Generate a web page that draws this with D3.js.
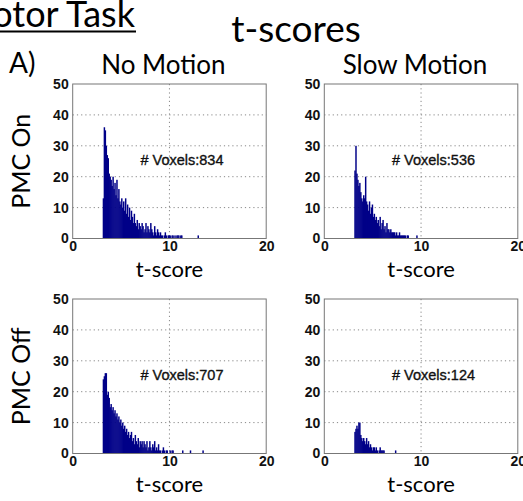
<!DOCTYPE html>
<html>
<head>
<meta charset="utf-8">
<script src="https://cdn.jsdelivr.net/npm/d3@7"></script>
<style>
  body { margin: 0; background: #fff; }
</style>
</head>
<body>
<div class="container"></div>
<script>
// histograms of t-scores, bins of 0.1 starting at t = 3.1

var binStart = 3.1
var binWidth = 0.1

var countsNoMotionOn = [
  13,36,35,30,27,26,21,20,19,17,
  20,16,18,14,19,13,16,12,11,13,
  10,12,9,13,8,11,7,10,6,9,
  7,5,8,5,4,6,3,5,4,3,
  5,4,2,3,5,2,4,3,2,5,
  3,2,1,4,2,1,3,2,1,2,
  1,1,0,1,2,1,0,1,1,1,
  0,1,1,0,1,0,1,1,1,0,
  1,1,0,0,0,0,0,0,0,0,
  0,0,0,0,0,0,0,0,1]

var countsSlowMotionOn = [
  22,30,21,19,17,18,15,13,12,14,
  13,20,12,11,9,12,8,10,11,7,
  8,6,7,5,6,4,7,3,5,6,
  3,4,2,5,3,3,2,3,2,2,
  2,2,1,2,1,1,2,1,1,1,
  1,1,1,0,1,1,0,0,0,0,
  0,0,0,0,1]

var countsNoMotionOff = [
  24,25,26,26,19,20,18,15,16,14,
  15,13,14,12,13,11,12,10,11,9,
  10,8,9,7,8,6,7,5,6,7,
  4,5,3,6,4,3,5,2,4,3,
  4,2,4,3,2,4,1,2,4,2,
  1,3,2,4,1,2,1,3,1,1,
  0,1,2,1,0,1,1,0,0,1,
  0,1,1,0,0,0,0,0,0,0,
  0,0,1,0,0,0,0,0,0,0,
  1,0,0,0,0,0,0,0,0,0,
  0,0,0,1]

var countsSlowMotionOff = [
  7,8,9,8,10,10,6,5,4,5,
  4,3,5,3,4,2,3,2,1,2,
  2,1,2,1,0,1,2,1,1,1,
  1,0,0,0,0,0,0,0,0,0,
  0,0,1]

var voxelTotals = [834, 536, 707, 124]
var xTicks = [0, 10, 20]
var yTicks = [0, 10, 20, 30, 40, 50]
var colTitles = ['No Motion', 'Slow Motion']
var rowTitles = ['PMC On', 'PMC Off']

var panels = [
  {row: 0, col: 0, counts: countsNoMotionOn, total: voxelTotals[0]},
  {row: 0, col: 1, counts: countsSlowMotionOn, total: voxelTotals[1]},
  {row: 1, col: 0, counts: countsNoMotionOff, total: voxelTotals[2]},
  {row: 1, col: 1, counts: countsSlowMotionOff, total: voxelTotals[3]}
]

var layout = {
  width: 523,
  height: 501,
  colLeft: [72.7, 324.3],
  rowTop: [84, 299],
  plotW: 193.5,
  plotH: 154.5
}

var titleFont = 'Lato, "Open Sans", sans-serif'
var tickFont = '"Liberation Sans", Arial, sans-serif'
var barColor = '#000088'

var svg = d3.select('.container').append('svg')
  .attr('width', layout.width)
  .attr('height', layout.height)

// header texts
svg.append('text')
  .attr('x', 135).attr('y', 27)
  .attr('text-anchor', 'end')
  .style('font-family', titleFont).style('font-size', '36px')
  .text('Motor Task')
svg.append('line')
  .attr('x1', 0).attr('x2', 136).attr('y1', 31.5).attr('y2', 31.5)
  .style('stroke', '#000').style('stroke-width', 2)

svg.append('text')
  .attr('x', 296).attr('y', 42)
  .attr('text-anchor', 'middle')
  .style('font-family', titleFont).style('font-size', '37px')
  .text('t-scores')

svg.append('text')
  .attr('x', 9).attr('y', 73)
  .style('font-family', titleFont).style('font-size', '28px')
  .text('A)')

colTitles.forEach(function (t, i) {
  svg.append('text')
    .attr('x', layout.colLeft[i] + layout.plotW / 2 - 6).attr('y', 74)
    .attr('text-anchor', 'middle')
    .style('font-family', titleFont).style('font-size', '26px')
    .text(t)
})

rowTitles.forEach(function (t, i) {
  var cy = layout.rowTop[i] + layout.plotH / 2
  svg.append('text')
    .attr('transform', 'translate(30,' + cy + ') rotate(-90)')
    .attr('text-anchor', 'middle')
    .style('font-family', titleFont).style('font-size', '25px')
    .text(t)
})

panels.forEach(function (p) {
  var left = layout.colLeft[p.col]
  var top = layout.rowTop[p.row]

  var x = d3.scaleLinear().domain([0, 20]).range([0, layout.plotW])
  var y = d3.scaleLinear().domain([0, 50]).range([layout.plotH, 0])

  var g = svg.append('g').attr('transform', 'translate(' + left + ',' + top + ')')

  // dotted grid
  g.selectAll('.hgrid').data(yTicks.slice(1, -1)).enter().append('line')
    .attr('x1', 0).attr('x2', layout.plotW)
    .attr('y1', function (d) { return y(d) }).attr('y2', function (d) { return y(d) })
    .style('stroke', '#888').style('stroke-width', 1).style('stroke-dasharray', '1.2,3')
  g.selectAll('.vgrid').data(xTicks.slice(1, -1)).enter().append('line')
    .attr('y1', 0).attr('y2', layout.plotH)
    .attr('x1', function (d) { return x(d) }).attr('x2', function (d) { return x(d) })
    .style('stroke', '#888').style('stroke-width', 1).style('stroke-dasharray', '1.2,3')

  // bars
  var bins = p.counts.map(function (c, i) {
    return {x0: binStart + i * binWidth, n: c}
  }).filter(function (d) { return d.n > 0 })

  g.selectAll('rect.bar').data(bins).enter().append('rect')
    .attr('class', 'bar')
    .attr('x', function (d) { return x(d.x0) })
    .attr('width', x(binWidth) - x(0) + 0.5)
    .attr('y', function (d) { return y(d.n) })
    .attr('height', function (d) { return y(0) - y(d.n) })
    .style('fill', barColor)

  // frame
  g.append('rect')
    .attr('width', layout.plotW).attr('height', layout.plotH)
    .style('fill', 'none').style('stroke', '#777').style('stroke-width', 1)

  // axes
  var yAxis = d3.axisLeft(y).tickValues(yTicks).tickSize(0).tickPadding(4)
  var xAxis = d3.axisBottom(x).tickValues(xTicks).tickSize(0).tickPadding(3)

  var ya = g.append('g').call(yAxis)
  var xa = g.append('g').attr('transform', 'translate(0,' + layout.plotH + ')').call(xAxis)
  ;[ya, xa].forEach(function (a) {
    a.select('.domain').remove()
    a.selectAll('text')
      .style('font-family', tickFont).style('font-size', '14px')
      .style('font-weight', 'bold').style('fill', '#111')
  })

  // voxel count
  g.append('text')
    .attr('x', x(7)).attr('y', y(25))
    .attr('dominant-baseline', 'middle')
    .style('font-family', tickFont).style('font-size', '14.5px')
    .style('fill', '#111').style('stroke', '#111').style('stroke-width', 0.35)
    .text('# Voxels:' + p.total)

  g.append('text')
    .attr('x', layout.plotW / 2).attr('y', layout.plotH + 38)
    .attr('text-anchor', 'middle')
    .style('font-family', titleFont).style('font-size', '22px')
    .text('t-score')
})
</script>
</body>
</html>
